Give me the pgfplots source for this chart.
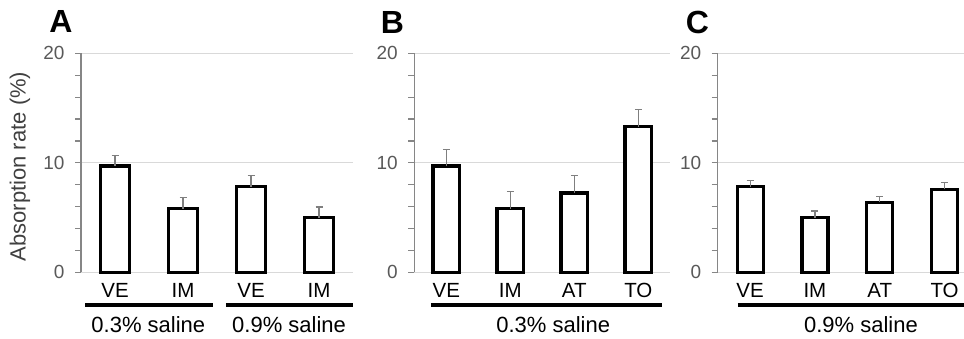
\documentclass[border=0pt]{standalone}
\usepackage{pgfplots}
\pgfplotsset{compat=1.18}
\usepackage{fontspec}
\setmainfont{Liberation Sans}
\definecolor{axisgray}{HTML}{868686}
\definecolor{gridgray}{HTML}{D9D9D9}
\definecolor{ticktext}{HTML}{595959}
\definecolor{errgray}{HTML}{7F7F7F}
\definecolor{labelgray}{HTML}{404040}

\tikzset{grouptxt/.style={font=\fontsize{22}{22}\selectfont}}
\pgfplotsset{
 panel/.style={
  scale only axis, height=219pt, ymin=0, ymax=20, xmin=-0.5,
  anchor=south west,
  axis x line*=bottom, axis y line*=left,
  x axis line style={draw=none},
  y axis line style={draw=axisgray, line width=1.2pt, -},
  ytick={0,10,20}, minor ytick={2,4,6,8,12,14,16,18},
  ymajorgrids, major grid style={gridgray, line width=0.9pt},
  tick align=outside, major tick length=6pt, minor tick length=6pt,
  y tick style={axisgray, line width=1.2pt},
  x tick style={draw=none},
  yticklabel style={font=\fontsize{19}{19}\selectfont, text=ticktext, xshift=-7pt},
  /pgf/number format/assume math mode=true,
  xtick={0,1,2,3},
  xticklabel style={font=\fontsize{20.5}{20.5}\selectfont, anchor=base, yshift=-19pt},
  clip=false,
 },
 bars/.style={ybar, fill=white, draw=black, line width=3.2pt,
  error bars/.cd, y dir=plus, y explicit,
  error bar style={errgray, line width=1.2pt},
  error mark options={rotate=90, mark size=3.5pt, errgray, line width=1.2pt},
  /pgfplots/.cd},
}

\begin{document}
\begin{tikzpicture}
\useasboundingbox (0pt,0pt) rectangle (964pt,-339pt);

% Panel A
\begin{axis}[panel, at={(81pt,-272.3pt)}, width=272pt, xmax=3.5,
  xticklabels={VE,IM,VE,IM}]
\addplot[bar width=28.5pt, bars] coordinates {
 (0,9.7) +- (0,0.95)
 (1,5.8) +- (0,1.0)
 (2,7.8) +- (0,1.05)
 (3,5.0) +- (0,0.97)
};
\draw[line width=4pt] (axis cs:-0.44,-3.01) -- (axis cs:1.445,-3.01);
\draw[line width=4pt] (axis cs:1.63,-3.01) -- (axis cs:3.5,-3.01);
\node[grouptxt] at (axis cs:0.49,-4.79) {0.3\% saline};
\node[grouptxt] at (axis cs:2.56,-4.79) {0.9\% saline};
\end{axis}

% Panel B
\begin{axis}[panel, at={(414.3pt,-272.3pt)}, width=256pt, xmax=3.5,
  xticklabels={VE,IM,AT,TO}]
\addplot[bar width=26.5pt, bars] coordinates {
 (0,9.7) +- (0,1.55)
 (1,5.8) +- (0,1.58)
 (2,7.25) +- (0,1.62)
 (3,13.3) +- (0,1.6)
};
\draw[line width=4pt] (axis cs:-0.24,-3.01) -- (axis cs:3.37,-3.01);
\node[grouptxt] at (axis cs:1.67,-4.79) {0.3\% saline};
\end{axis}

% Panel C
\begin{axis}[panel, at={(717.7pt,-272.3pt)}, width=246.3pt, xmax=3.3,
  xticklabels={VE,IM,AT,TO}]
\addplot[bar width=26pt, bars] coordinates {
 (0,7.8) +- (0,0.61)
 (1,4.98) +- (0,0.61)
 (2,6.4) +- (0,0.55)
 (3,7.57) +- (0,0.6)
};
\draw[line width=4pt] (axis cs:-0.19,-3.01) -- (axis cs:3.3,-3.01);
\node[grouptxt] at (axis cs:1.71,-4.79) {0.9\% saline};
\end{axis}

\node[font=\fontsize{22}{22}\selectfont, text=labelgray, rotate=90] at (20pt,-166.5pt) {Absorption rate (\%)};
\node[font=\fontsize{32}{32}\selectfont\bfseries] at (61pt,-21.7pt) {A};
\node[font=\fontsize{32}{32}\selectfont\bfseries] at (392.5pt,-22pt) {B};
\node[font=\fontsize{32}{32}\selectfont\bfseries] at (697.5pt,-22pt) {C};
\end{tikzpicture}
\end{document}
